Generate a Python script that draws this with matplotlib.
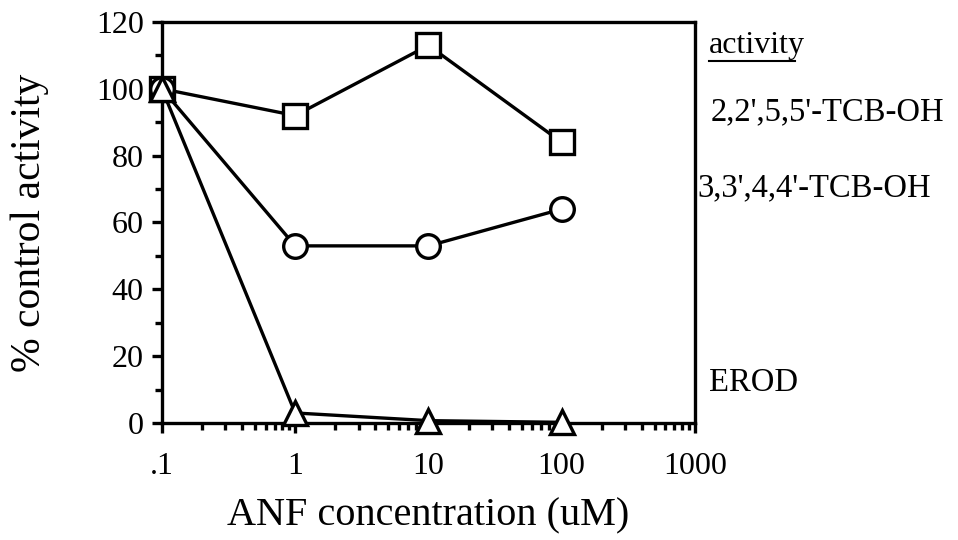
import matplotlib
matplotlib.use("Agg")
import matplotlib.pyplot as plt
from matplotlib.ticker import FixedLocator, LogLocator, NullFormatter, FixedFormatter

conc = [0.1, 1, 10, 100]
tcb2255 = [100, 92, 113, 84]
tcb3344 = [100, 53, 53, 64]
erod = [100, 3, 0.7, 0.2]

xticks = [0.1, 1, 10, 100, 1000]
xticklabels = [".1", "1", "10", "100", "1000"]
yticks = [0, 20, 40, 60, 80, 100, 120]

series_labels = ["2,2',5,5'-TCB-OH", "3,3',4,4'-TCB-OH", "EROD"]
label_y = [112, 188, 383]

font = "Liberation Serif"

fig = plt.figure(figsize=(9.58, 5.4), dpi=100)
ax = fig.add_axes([0.169, 0.2167, 0.5564, 0.7426])

common = dict(color="black", lw=2.4, mfc="white", mec="black", mew=2.4, clip_on=False, zorder=3)
ax.plot(conc, tcb2255, marker="s", ms=17, **common)
ax.plot(conc, tcb3344, marker="o", ms=17, **common)
ax.plot(conc, erod, marker="^", ms=17, **common)

ax.set_xscale("log")
ax.set_xlim(0.1, 1000)
ax.set_ylim(0, 120)
ax.xaxis.set_major_locator(FixedLocator(xticks))
ax.xaxis.set_major_formatter(FixedFormatter(xticklabels))
ax.xaxis.set_minor_locator(LogLocator(base=10, subs=range(2, 10), numticks=20))
ax.xaxis.set_minor_formatter(NullFormatter())
ax.yaxis.set_major_locator(FixedLocator(yticks))
ax.yaxis.set_minor_locator(FixedLocator(list(range(10, 120, 20))))

for s in ax.spines.values():
    s.set_linewidth(2.4)
ax.tick_params(axis="both", which="major", direction="out", length=7, width=2.4,
               labelsize=23)
ax.tick_params(axis="x", which="major", pad=14)
ax.tick_params(axis="y", which="major", pad=6)
ax.tick_params(axis="both", which="minor", direction="out", length=5, width=2.4)
for lab in ax.get_xticklabels() + ax.get_yticklabels():
    lab.set_fontfamily(font)

ax.set_xlabel("ANF concentration (uM)", fontsize=29, fontfamily=font, labelpad=12)
ax.set_ylabel("% control activity", fontsize=30, fontfamily=font, labelpad=34)

fig.text(709 / 958, 1 - 45 / 540, "activity", fontsize=23, fontfamily=font,
         va="center", ha="left")
fig.add_artist(plt.Line2D([709 / 958, 795 / 958], [1 - 61 / 540, 1 - 61 / 540],
                          color="black", lw=1.5))
xs = [711, 697, 709]
for lbl, yy, xx in zip(series_labels, label_y, xs):
    fig.text(xx / 958, 1 - yy / 540, lbl, fontsize=23.5, fontfamily=font,
             va="center", ha="left")

fig.savefig("out.png", dpi=100)
